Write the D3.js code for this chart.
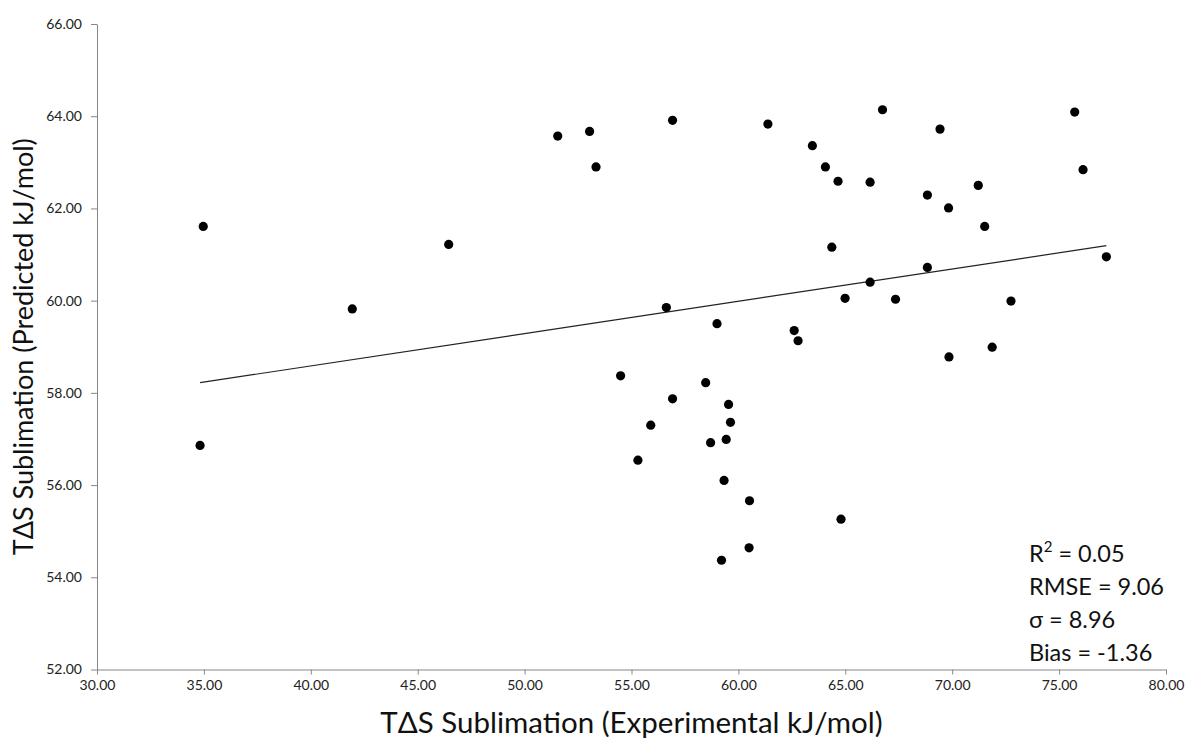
<!DOCTYPE html>
<html>
<head>
<meta charset="utf-8">
<script src="https://cdnjs.cloudflare.com/ajax/libs/d3/7.8.5/d3.min.js"></script>
<style>
    body { margin: 0; background: #fff; }
    .axis text { font-family: Lato, "Open Sans", sans-serif; font-size: 14px; fill: #222; }
    .axis path, .axis line { stroke: #868686; }
</style>
</head>
<body>
<div id="chart"></div>
<script>
    // experimental values (x)
    var expValues = [
        34.97, 34.82, 41.94, 46.45, 51.55, 53.04, 53.34, 56.92, 61.38, 63.46,
        64.07, 64.66, 66.16, 66.74, 69.43, 68.84, 69.83, 71.22, 71.52, 75.73,
        76.12, 77.21, 64.37, 68.84, 66.16, 64.99, 67.35, 72.75, 56.63, 59.00,
        62.61, 62.79, 69.85, 71.87, 54.49, 58.47, 56.92, 59.54, 59.63, 55.90,
        58.70, 59.43, 55.30, 59.33, 60.52, 64.80, 60.50, 59.21
    ];
    // predicted values (y)
    var predValues = [
        61.61, 56.86, 59.82, 61.22, 63.57, 63.67, 62.90, 63.91, 63.83, 63.36,
        62.90, 62.59, 62.57, 64.14, 63.72, 62.29, 62.01, 62.50, 61.61, 64.09,
        62.84, 60.95, 61.16, 60.72, 60.40, 60.05, 60.03, 59.99, 59.85, 59.50,
        59.35, 59.13, 58.78, 58.99, 58.37, 58.22, 57.87, 57.75, 57.36, 57.30,
        56.92, 56.99, 56.54, 56.10, 55.66, 55.26, 54.64, 54.37
    ];

    // linear trend line
    var trendSlope = 0.0701;
    var trendIntercept = 55.78;

    var xTicks = [30, 35, 40, 45, 50, 55, 60, 65, 70, 75, 80];
    var yTicks = [52, 54, 56, 58, 60, 62, 64, 66];

    var statLines = [
        {label: "R", sup: "2", text: " = 0.05"},
        {label: "RMSE", sup: "", text: " = 9.06"},
        {label: "σ", sup: "", text: " = 8.96"},
        {label: "Bias", sup: "", text: " = -1.36"}
    ];

    // sizes
    var svgBGW = 1187, svgBGH = 738;
    var margin = {top: 24, right: 21, bottom: 68.5, left: 97};
    var svgW = svgBGW - margin.left - margin.right;
    var svgH = svgBGH - margin.top - margin.bottom;

    var svgBG = d3.select("#chart").append("svg")
        .attr("width", svgBGW).attr("height", svgBGH);
    var svg = svgBG.append("g")
        .attr("transform", "translate(" + margin.left + "," + margin.top + ")");

    var xScale = d3.scaleLinear().domain([30, 80]).range([0, svgW]);
    var yScale = d3.scaleLinear().domain([52, 66]).range([svgH, 0]);

    var xAxis = d3.axisBottom(xScale).tickValues(xTicks)
        .tickFormat(d3.format(".2f")).tickSize(5).tickSizeOuter(0).tickPadding(6);
    var yAxis = d3.axisLeft(yScale).tickValues(yTicks)
        .tickFormat(d3.format(".2f")).tickSize(6).tickSizeOuter(0).tickPadding(9);

    svg.append("g").attr("class", "axis axis--x")
        .attr("transform", "translate(0," + svgH + ")")
        .call(xAxis);
    svg.append("g").attr("class", "axis axis--y")
        .call(yAxis);

    // trend line across the data range
    var xExt = d3.extent(expValues);
    var line = d3.line()
        .x(function(d) { return xScale(d); })
        .y(function(d) { return yScale(trendIntercept + trendSlope * d); });
    svg.append("path")
        .datum(xExt)
        .attr("d", line)
        .attr("fill", "none")
        .attr("stroke", "#222")
        .attr("stroke-width", 1.2);

    // points
    var points = expValues.map(function(x, i) { return {x: x, y: predValues[i]}; });
    svg.selectAll("circle.pt")
        .data(points)
        .enter().append("circle")
        .attr("class", "pt")
        .attr("cx", function(d) { return xScale(d.x); })
        .attr("cy", function(d) { return yScale(d.y); })
        .attr("r", 4.6)
        .attr("fill", "#000");

    // axis titles
    svgBG.append("text")
        .attr("x", margin.left + svgW / 2)
        .attr("y", 733)
        .attr("text-anchor", "middle")
        .style("font-family", "Lato, 'Open Sans', sans-serif")
        .style("font-size", "29.5px")
        .style("fill", "#111")
        .text("TΔS Sublimation (Experimental kJ/mol)");

    svgBG.append("text")
        .attr("transform", "translate(33," + (margin.top + svgH / 2) + ") rotate(-90)")
        .attr("text-anchor", "middle")
        .style("font-family", "Lato, 'Open Sans', sans-serif")
        .style("font-size", "27px")
        .style("fill", "#111")
        .text("TΔS Sublimation (Predicted kJ/mol)");

    // statistics box
    var stats = svgBG.append("g")
        .style("font-family", "Lato, 'Open Sans', sans-serif")
        .style("font-size", "23.5px")
        .style("fill", "#111");
    stats.selectAll("text")
        .data(statLines)
        .enter().append("text")
        .attr("x", 1029)
        .attr("y", function(d, i) { return 562 + i * 33; })
        .each(function(d) {
            var t = d3.select(this);
            t.append("tspan").text(d.label);
            if (d.sup) {
                t.append("tspan").attr("dy", -10).style("font-size", "15px").text(d.sup);
                t.append("tspan").attr("dy", 10).text(d.text);
            } else {
                t.append("tspan").text(d.text);
            }
        });
</script>
</body>
</html>
